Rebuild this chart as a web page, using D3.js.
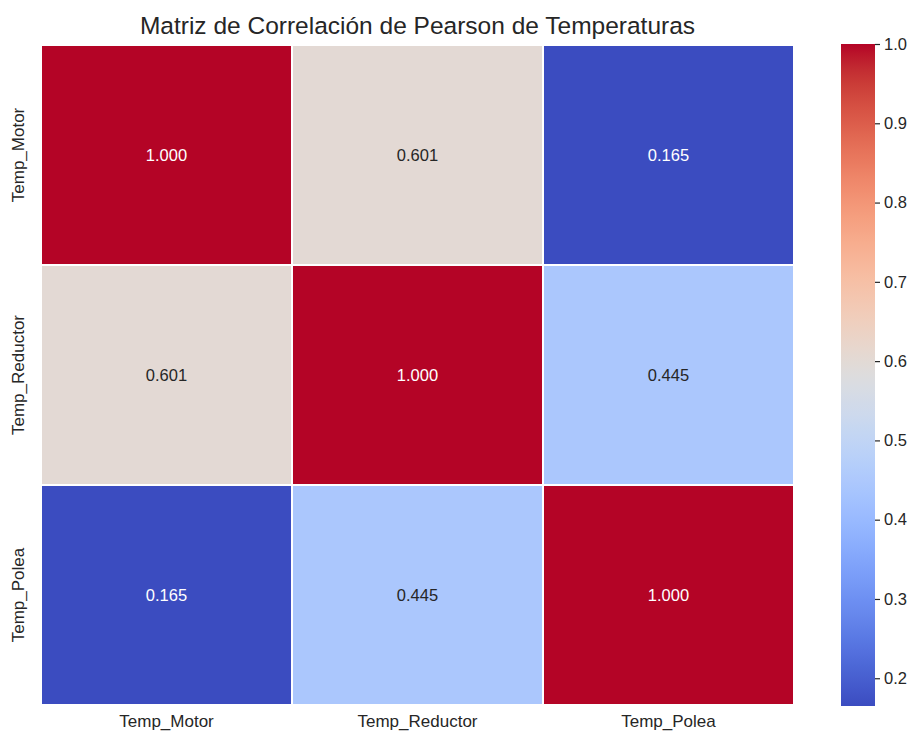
<!DOCTYPE html>
<html>
<head>
<meta charset="utf-8">
<script src="https://cdn.jsdelivr.net/npm/d3@7"></script>
<style>
  html, body { margin: 0; padding: 0; background: #ffffff; }
  svg { display: block; font-family: "Liberation Sans", Arial, sans-serif; }
</style>
</head>
<body>
<svg id="chart" width="912" height="734"></svg>
<script>
// Variables and their pairwise Pearson coefficients
const variables = ["Temp_Motor", "Temp_Reductor", "Temp_Polea"];
const rowMotor    = [1.000, 0.601, 0.165];
const rowReductor = [0.601, 1.000, 0.445];
const rowPolea    = [0.165, 0.445, 1.000];
const matrixRows  = [rowMotor, rowReductor, rowPolea];
const colorbarTicks = [0.2, 0.3, 0.4, 0.5, 0.6, 0.7, 0.8, 0.9, 1.0];
const chartTitle = "Matriz de Correlación de Pearson de Temperaturas";

// Diverging "coolwarm" palette control points (Moreland)
const coolwarmStops = [
  [59,76,192],[68,90,204],[77,104,215],[87,117,225],[98,130,234],[108,142,241],
  [119,154,247],[130,165,251],[141,176,254],[152,185,255],[163,194,255],[174,201,253],
  [184,208,249],[194,213,244],[204,217,238],[213,219,230],[221,221,221],[229,216,209],
  [236,211,197],[241,204,184],[245,196,172],[247,187,159],[247,177,147],[247,166,134],
  [244,154,123],[241,141,111],[236,127,99],[229,112,88],[222,96,77],[213,80,66],
  [203,62,56],[192,40,47],[180,4,38]
].map(c => d3.rgb(c[0], c[1], c[2]).toString());
const coolwarm = d3.interpolateRgbBasis(coolwarmStops);

const cells = [];
matrixRows.forEach((row, i) => row.forEach((v, j) => cells.push({ r: variables[i], c: variables[j], v })));

const allVals = matrixRows.flat();
const vmin = d3.min(allVals), vmax = d3.max(allVals);
const color = d3.scaleSequential(coolwarm).domain([vmin, vmax]);

const svg = d3.select("#chart");
const plot = { left: 41, top: 45, right: 794, bottom: 705 };
const tickFont = 17;

const x = d3.scaleBand().domain(variables).range([plot.left, plot.right]);
const y = d3.scaleBand().domain(variables).range([plot.top, plot.bottom]);

// Heatmap cells with white separators
svg.append("g").selectAll("rect").data(cells).join("rect")
  .attr("x", d => x(d.c))
  .attr("y", d => y(d.r))
  .attr("width", x.bandwidth())
  .attr("height", y.bandwidth())
  .attr("fill", d => color(d.v))
  .attr("stroke", "#ffffff")
  .attr("stroke-width", 2);

// Cell annotations
svg.append("g").selectAll("text").data(cells).join("text")
  .attr("x", d => x(d.c) + x.bandwidth() / 2)
  .attr("y", d => y(d.r) + y.bandwidth() / 2)
  .attr("text-anchor", "middle")
  .attr("dominant-baseline", "central")
  .attr("font-size", 16.5)
  .attr("fill", d => d3.lab(color(d.v)).l < 55 ? "#ffffff" : "#262626")
  .text(d => d3.format(".3f")(d.v));

// Axes (no lines, no ticks)
const xAxis = svg.append("g")
  .attr("transform", `translate(0,${plot.bottom})`)
  .call(d3.axisBottom(x).tickSize(0).tickPadding(10));
xAxis.select(".domain").remove();
xAxis.selectAll("text").attr("font-size", tickFont).attr("fill", "#262626")
  .attr("font-family", "Liberation Sans, Arial, sans-serif");

const yAxis = svg.append("g")
  .attr("transform", `translate(${plot.left},0)`)
  .call(d3.axisLeft(y).tickSize(0));
yAxis.select(".domain").remove();
yAxis.selectAll("text")
  .attr("font-size", tickFont).attr("fill", "#262626")
  .attr("font-family", "Liberation Sans, Arial, sans-serif")
  .attr("text-anchor", "middle")
  .attr("x", 0)
  .attr("y", -23)
  .attr("dy", "0.35em")
  .attr("transform", "rotate(-90)");

// Title
svg.append("text")
  .attr("x", (plot.left + plot.right) / 2)
  .attr("y", 34)
  .attr("text-anchor", "middle")
  .attr("font-size", 24.5)
  .attr("fill", "#262626")
  .text(chartTitle);

// Colorbar
const cb = { x: 841, w: 34, top: 44, bottom: 706 };
const cy = d3.scaleLinear().domain([vmin, vmax]).range([cb.bottom, cb.top]);
const defs = svg.append("defs");
const grad = defs.append("linearGradient").attr("id", "cbgrad")
  .attr("x1", 0).attr("y1", 1).attr("x2", 0).attr("y2", 0);
d3.range(0, 1.0001, 0.02).forEach(t => {
  grad.append("stop").attr("offset", t).attr("stop-color", coolwarm(t));
});
svg.append("rect")
  .attr("x", cb.x).attr("y", cb.top)
  .attr("width", cb.w).attr("height", cb.bottom - cb.top)
  .attr("fill", "url(#cbgrad)");

const cAxis = svg.append("g")
  .attr("transform", `translate(${cb.x + cb.w},0)`)
  .call(d3.axisRight(cy).tickValues(colorbarTicks).tickFormat(d3.format(".1f")).tickSize(5).tickPadding(4));
cAxis.select(".domain").remove();
cAxis.selectAll("line").attr("stroke", "#262626").attr("stroke-width", 1.2);
cAxis.selectAll("text").attr("font-size", 16.5).attr("fill", "#262626")
  .attr("font-family", "Liberation Sans, Arial, sans-serif");
</script>
</body>
</html>
